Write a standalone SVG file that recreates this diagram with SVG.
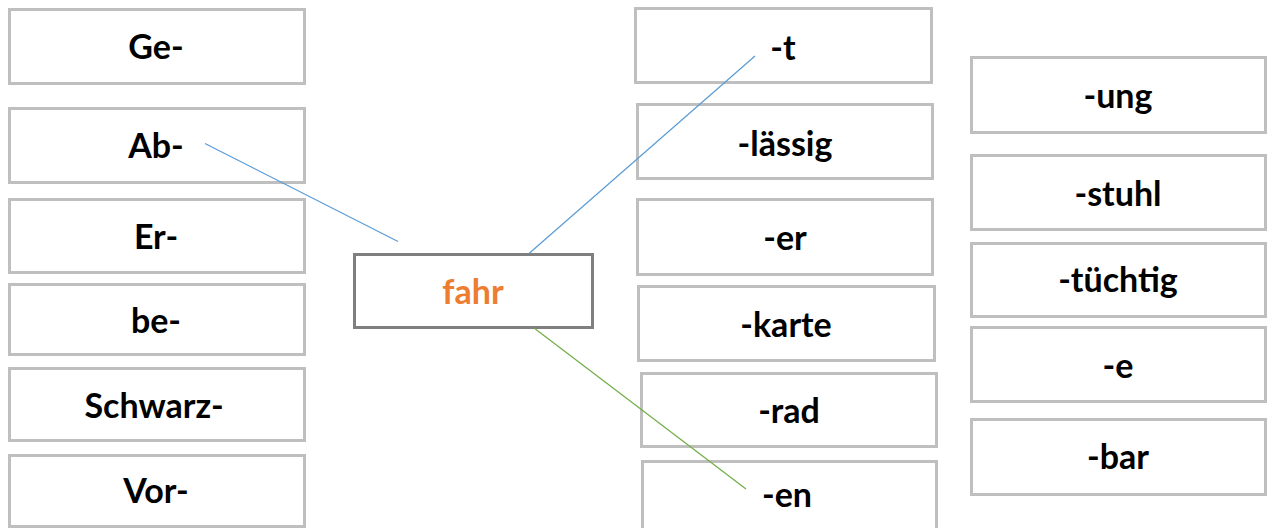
<svg xmlns="http://www.w3.org/2000/svg" width="1267" height="528" viewBox="0 0 1267 528">
<style>
.b{fill:#fff;stroke:#bfbfbf;stroke-width:3}
.c{fill:#fff;stroke:#7f7f7f;stroke-width:3}
.t{font-family:Lato,"Open Sans",sans-serif;font-weight:bold;font-size:34px;fill:#000;text-anchor:middle}
.o{fill:#ed7d31}
.l{fill:none;stroke-width:1.2}
</style>
<rect width="1267" height="528" fill="#fff"/>
<g id="n-ge"><rect class="b" x="9.5" y="9.5" width="295" height="74"/><text class="t" x="156" y="59">Ge-</text></g>
<g id="n-ab"><rect class="b" x="9.5" y="108.5" width="295" height="74"/><text class="t" x="156" y="158">Ab-</text></g>
<g id="n-er1"><rect class="b" x="9.5" y="199.5" width="295" height="73"/><text class="t" x="156" y="249">Er-</text></g>
<g id="n-be"><rect class="b" x="9.5" y="284.5" width="295" height="70"/><text class="t" x="156" y="333">be-</text></g>
<g id="n-schwarz"><rect class="b" x="9.5" y="368.5" width="295" height="72"/><text class="t" x="154" y="418">Schwarz-</text></g>
<g id="n-vor"><rect class="b" x="9.5" y="455.5" width="295" height="71"/><text class="t" x="156" y="503">Vor-</text></g>
<g id="n-fahr"><rect class="c" x="354.5" y="254.5" width="238" height="73"/><text class="t o" x="473" y="304">fahr</text></g>
<g id="n-t"><rect class="b" x="635.5" y="8.5" width="296" height="74"/><text class="t" x="783" y="60">-t</text></g>
<g id="n-laessig"><rect class="b" x="637.5" y="104.5" width="295" height="74"/><text class="t" x="785" y="156">-lässig</text></g>
<g id="n-er2"><rect class="b" x="637.5" y="199.5" width="295" height="75"/><text class="t" x="785" y="250">-er</text></g>
<g id="n-karte"><rect class="b" x="638.5" y="286.5" width="296" height="74"/><text class="t" x="786" y="337">-karte</text></g>
<g id="n-rad"><rect class="b" x="641.5" y="373.5" width="295" height="73"/><text class="t" x="789" y="423">-rad</text></g>
<g id="n-en"><rect class="b" x="642.5" y="461.5" width="294" height="70"/><text class="t" x="787" y="507">-en</text></g>
<g id="n-ung"><rect class="b" x="971.5" y="57.5" width="294" height="75"/><text class="t" x="1118" y="108">-ung</text></g>
<g id="n-stuhl"><rect class="b" x="971.5" y="155.5" width="294" height="74"/><text class="t" x="1118" y="206">-stuhl</text></g>
<g id="n-tuechtig"><rect class="b" x="971.5" y="243.5" width="294" height="73"/><text class="t" x="1118" y="292">-tüchtig</text></g>
<g id="n-e"><rect class="b" x="971.5" y="327.5" width="294" height="74"/><text class="t" x="1118" y="378">-e</text></g>
<g id="n-bar"><rect class="b" x="971.5" y="419.5" width="294" height="75"/><text class="t" x="1118" y="469">-bar</text></g>
<g id="connectors">
<line class="l" x1="205" y1="143.5" x2="398" y2="241.5" stroke="#5b9bd5"/>
<line class="l" x1="529" y1="253.5" x2="755" y2="56" stroke="#5b9bd5"/>
<line class="l" x1="534" y1="328" x2="746" y2="489" stroke="#70ad47"/>
</g>
</svg>
